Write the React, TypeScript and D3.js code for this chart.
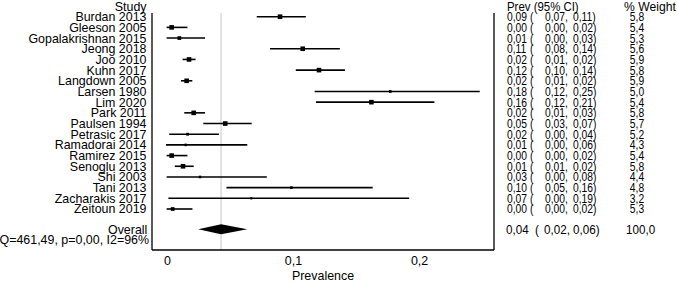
import React, { useLayoutEffect, useRef, useState } from "react";
import * as d3 from "d3";

const studies = [
  "Burdan 2013", "Gleeson 2005", "Gopalakrishnan 2015", "Jeong 2018", "Joo 2010",
  "Kuhn 2017", "Langdown 2005", "Larsen 1980", "Lim 2020", "Park 2011",
  "Paulsen 1994", "Petrasic 2017", "Ramadorai 2014", "Ramirez 2015", "Senoglu 2013",
  "Shi 2003", "Tani 2013", "Zacharakis 2017", "Zeitoun 2019",
];
const estimate = [0.0905, 0.0045, 0.0106, 0.1085, 0.0183, 0.1214, 0.0164, 0.178, 0.163, 0.022,
  0.047, 0.0172, 0.0156, 0.0045, 0.0135, 0.027, 0.0995, 0.0677, 0.0053];
const lower = [0.072, 0.0005, 0.0005, 0.0825, 0.0132, 0.103, 0.0119, 0.118, 0.119, 0.0145,
  0.0296, 0.0026, 0.0, 0.0005, 0.007, 0.0005, 0.048, 0.0019, 0.0005];
const upper = [0.111, 0.017, 0.031, 0.138, 0.0235, 0.142, 0.0209, 0.249, 0.213, 0.031,
  0.068, 0.042, 0.0645, 0.017, 0.022, 0.08, 0.164, 0.193, 0.021];
const prevText = ["0,09", "0,00", "0,01", "0,11", "0,02", "0,12", "0,02", "0,18", "0,16", "0,02",
  "0,05", "0,02", "0,01", "0,00", "0,01", "0,03", "0,10", "0,07", "0,00"];
const lowText = ["0,07", "0,00", "0,00", "0,08", "0,01", "0,10", "0,01", "0,12", "0,12", "0,01",
  "0,03", "0,00", "0,00", "0,00", "0,01", "0,00", "0,05", "0,00", "0,00"];
const highText = ["0,11", "0,02", "0,03", "0,14", "0,02", "0,14", "0,02", "0,25", "0,21", "0,03",
  "0,07", "0,04", "0,06", "0,02", "0,02", "0,08", "0,16", "0,19", "0,02"];
const weights = [5.8, 5.4, 5.3, 5.6, 5.9, 5.8, 5.9, 5.0, 5.4, 5.8, 5.7, 5.2, 4.3, 5.4, 5.8, 4.4, 4.8, 3.2, 5.3];
const weightText = ["5,8", "5,4", "5,3", "5,6", "5,9", "5,8", "5,9", "5,0", "5,4", "5,8", "5,7", "5,2", "4,3", "5,4", "5,8", "4,4", "4,8", "3,2", "5,3"];

const overall = { est: 0.0437, lo: 0.0256, hi: 0.0645 };
const overallTexts = ["0,04", "(", "0,02,", "0,06)", "100,0"];
const heterogeneity = "Q=461,49, p=0,00, I2=96%";
const xTicks = [0, 0.1, 0.2];
const xTickLabels = ["0", "0,1", "0,2"];
const xTitle = "Prevalence";

const FONT = "'Liberation Sans', Arial, Helvetica, sans-serif";

export default function App() {
  const probe = useRef<SVGTextElement | null>(null);
  const [k0, setK0] = useState(1);
  useLayoutEffect(() => {
    if (probe.current) {
      const w = probe.current.getComputedTextLength();
      if (w > 0) setK0(118 / w);
    }
  }, []);

  const x = d3.scaleLinear().domain([-0.0111, 0.2603]).range([152, 494]);
  const y = d3.scaleLinear().domain([0, studies.length - 1]).range([16.7, 209]);
  const size = d3.scaleLinear().domain([3.2, 5.2, 5.4]).range([2.2, 2.8, 4.6]).clamp(true);
  const yOverall = 229.3;
  const yQ = 239.5;
  const yHeader = 6.7;
  const top = 13;
  const bottom = 250;
  const fs = 12.4;
  const tfs = 12.4;
  const base = (c: number, f = fs) => c + f * 0.36;
  const kRow = k0 * 0.83;

  const t = (
    key: string,
    tx: number,
    ty: number,
    k: number,
    content: string,
    anchor = "start",
    sz = fs,
    ref?: React.Ref<SVGTextElement>
  ) => (
    <text
      key={key}
      ref={ref}
      transform={`translate(${tx},${ty}) scale(${k},1)`}
      fontSize={sz}
      textAnchor={anchor}
      fill="#000"
    >
      {content}
    </text>
  );

  return (
    <svg width={677} height={283} style={{ position: "absolute", left: 0, top: 0, background: "#fff" }}
      fontFamily={FONT}>
      <rect x={0} y={0} width={677} height={283} fill="#fff" />
      {/* reference line */}
      <line x1={x(overall.est)} x2={x(overall.est)} y1={top} y2={bottom} stroke="#c6c6c6" strokeWidth={1} />
      {/* frame */}
      <line x1={x.range()[0]} x2={x.range()[0]} y1={top} y2={bottom} stroke="#000" strokeWidth={1.3} />
      <line x1={x.range()[1]} x2={x.range()[1]} y1={top} y2={bottom} stroke="#000" strokeWidth={1.3} />
      <line x1={x.range()[0]} x2={x.range()[1]} y1={bottom} y2={bottom} stroke="#000" strokeWidth={1.3} />

      {/* studies */}
      {studies.map((s, i) => {
        const cy = y(i);
        const sz = size(weights[i]);
        const by = base(cy, tfs);
        return (
          <g key={s}>
            <line x1={x(lower[i])} x2={x(upper[i])} y1={cy} y2={cy} stroke="#000" strokeWidth={1.6} />
            <rect x={x(estimate[i]) - sz / 2} y={cy - sz / 2} width={sz} height={sz} fill="#000" />
            {t("n", 146.5, base(cy), k0, s, "end", fs, i === 2 ? probe : undefined)}
            {t("p", 507, by, kRow, prevText[i])}
            {t("o", 530, by, kRow, "(")}
            {t("l", 545, by, kRow, lowText[i] + ",")}
            {t("h", 573, by, kRow, highText[i] + ")")}
            {t("w", 637, by, kRow, weightText[i], "middle")}
          </g>
        );
      })}

      {/* overall diamond */}
      <path
        d={`M${x(overall.lo)},${yOverall} L${x(overall.est)},${yOverall - 5} L${x(overall.hi)},${yOverall} L${x(overall.est)},${yOverall + 5} Z`}
        fill="#000"
      />
      {t("ov", 147.3, base(yOverall), k0, "Overall", "end")}
      {t("q", 149, base(yQ), k0, heterogeneity, "end")}
      {t("o0", 506, base(yOverall), k0 * 0.97, overallTexts[0], "start", 12)}
      {t("o1", 535, base(yOverall), k0 * 0.97, overallTexts[1], "start", 12)}
      {t("o2", 544, base(yOverall), k0 * 0.97, overallTexts[2], "start", 12)}
      {t("o3", 573, base(yOverall), k0 * 0.97, overallTexts[3], "start", 12)}
      {t("o4", 626, base(yOverall), k0 * 0.97, overallTexts[4], "start", 12)}

      {/* headers */}
      {t("hs", 146.5, base(yHeader), k0, "Study", "end")}
      {t("hp", 507, base(yHeader), k0 * 0.92, "Prev (95% CI)")}
      {t("hw", 624, base(yHeader), k0 * 0.98, "% Weight")}

      {/* x axis */}
      {xTicks.map((v, i) => t("tk" + i, x(v) + 1.5, 264.5, k0, xTickLabels[i], "middle"))}
      {t("xt", (x.range()[0] + x.range()[1]) / 2, 279.5, k0, xTitle, "middle")}
    </svg>
  );
}
